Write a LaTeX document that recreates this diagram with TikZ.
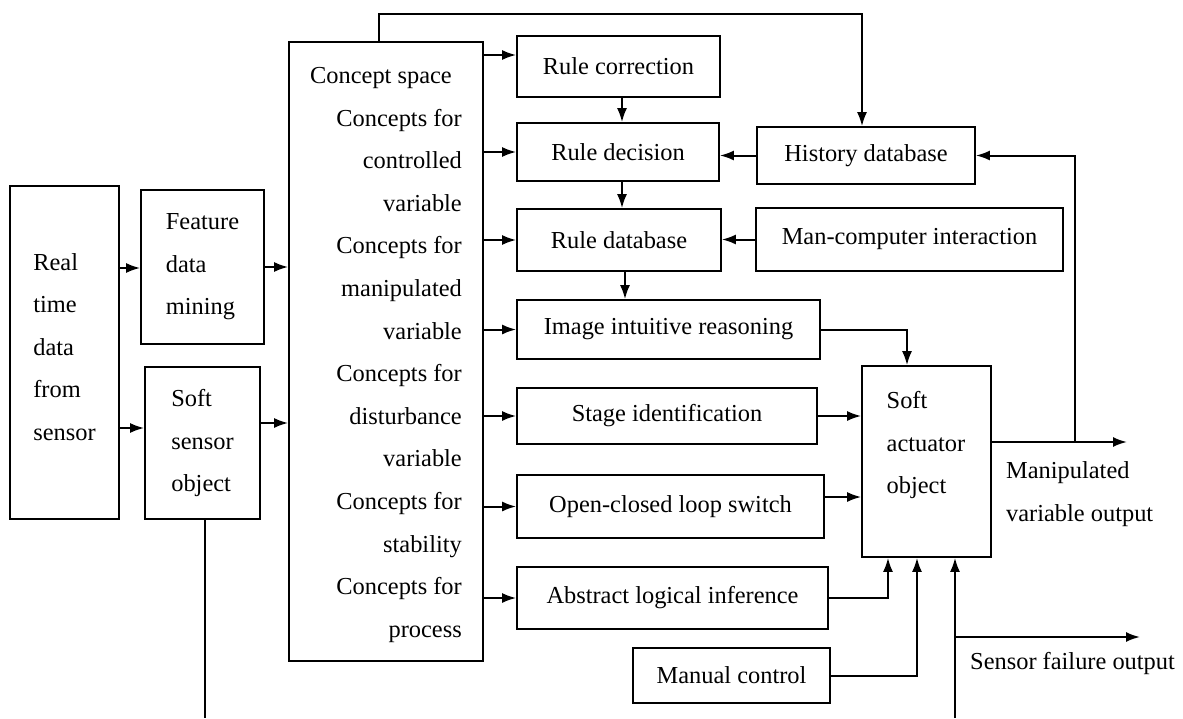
\documentclass[tikz,border=0pt]{standalone}
\usepackage{fontspec}
\setmainfont{Liberation Serif}
\usetikzlibrary{arrows.meta}

\tikzset{
    blk/.style={draw, line width=1.7pt, inner sep=0pt, align=left,
        font=\fontsize{24.4}{42.6}\selectfont},
    txt/.style={inner sep=0pt, font=\fontsize{24.4}{42.6}\selectfont},
    arr/.style={line width=2pt, -{Latex[length=14pt,width=10pt]}},
    ln/.style={line width=1.7pt}
}

\begin{document}
\begin{tikzpicture}[x=1pt, y=-1pt]
    \useasboundingbox (0,0) rectangle (1183,718);
    %input side
    \begin{scope}
    \node (rt) [blk, minimum width=109pt, minimum height=333pt] at (64.5,352.5) {};
    \node (rttext) [txt, align=left] at (64.5,347) {Real\\time\\data\\from\\sensor};
    \node (fdm) [blk, minimum width=123pt, minimum height=154pt] at (202.5,267) {Feature\\data\\mining};
    \node (sso) [blk, minimum width=115pt, minimum height=152pt] at (202.5,443) {Soft\\sensor\\object};
    \node (cs) [blk, minimum width=194pt, minimum height=619pt] at (386,351.5) {};
    \node (cstext) [txt, align=right, anchor=east] at (462,355) {Concept space\hspace*{10pt}\\Concepts for\\controlled\\variable\\Concepts for\\manipulated\\variable\\Concepts for\\disturbance\\variable\\Concepts for\\stability\\Concepts for\\process};
    \end{scope}
    %rule part
    \begin{scope}
    \node (rc) [blk, minimum width=203pt, minimum height=61pt] at (618.5,66.5) {Rule correction};
    \node (rd) [blk, minimum width=202pt, minimum height=58pt] at (618,152) {Rule decision};
    \node (rdb) [blk, minimum width=204pt, minimum height=62pt] at (619,240) {Rule database};
    \node (iir) [blk, minimum width=303pt, minimum height=59pt] at (668.5,329.5) {Image intuitive reasoning};
    \node (hdb) [blk, minimum width=218pt, minimum height=57pt] at (866,155.5) {History database};
    \node (mci) [blk, minimum width=307pt, minimum height=63pt] at (909.5,239.5) {Man-computer interaction};
    \node (sid) [blk, minimum width=300pt, minimum height=56pt] at (667,416) {Stage identification};
    \node (ocl) [blk, minimum width=307pt, minimum height=63pt] at (670.5,506.5) {Open-closed loop switch};
    \node (ali) [blk, minimum width=311pt, minimum height=62pt] at (672.5,598) {Abstract logical inference};
    \node (mc) [blk, minimum width=197pt, minimum height=55pt] at (731.5,675.5) {Manual control};
    \end{scope}
    %output side
    \node (sao) [blk, minimum width=129pt, minimum height=191pt] at (926.5,461.5) {};
    \node (saotext) [txt, align=left] at (926,445) {Soft\\actuator\\object};
    \node (mvo) [txt, align=left, anchor=west] at (1006,494) {Manipulated\\variable output};
    \node (sfo) [txt, anchor=west] at (970,663) {Sensor failure output};
    \coordinate (mvend) at (1127,442);
    \coordinate (sfin) at (955,718);
    \coordinate (sfend) at (1140,637);
    \coordinate (ssend) at (205,718);

    %arrows
    \draw [arr] (rt.east |- 0,268) -- (fdm.west |- 0,268);
    \draw [arr] (rt.east |- 0,428) -- (sso.west |- 0,428);
    \draw [arr] (fdm.east) -- (cs.west |- fdm.east);
    \draw [arr] (sso.east |- 0,423) -- (cs.west |- 0,423);
    \draw [ln] ([xshift=2.5pt]sso.south) -- (ssend);
    \draw [arr] (cs.east |- 0,55) -- (rc.west |- 0,55);
    \foreach \b in {rd,rdb,iir,sid,ocl,ali}
        \draw [arr] (cs.east |- \b.west) -- (\b.west);
    \draw [arr] ([xshift=3.5pt]rc.south) -- ([xshift=4pt]rd.north);
    \draw [arr] ([xshift=4pt]rd.south) -- ([xshift=3pt]rdb.north);
    \draw [arr] ([xshift=6pt]rdb.south) -- (iir.north -| 625,0);
    \draw [arr] (hdb.west) -- (rd.east |- hdb.west);
    \draw [arr] (mci.west) -- (rdb.east |- mci.west);
    \draw [arr] ([xshift=-7pt]cs.north) -- ++(0,-27) -| ([xshift=-4pt]hdb.north);
    \draw [arr] (iir.east) -| ([xshift=-19.5pt]sao.north);
    \draw [arr] (sid.east) -- (sao.west |- sid.east);
    \draw [arr] (ocl.east |- 0,497) -- (sao.west |- 0,497);
    \draw [arr] (ali.east) -| ([xshift=-38.5pt]sao.south);
    \draw [arr] (mc.east) -| ([xshift=-9.5pt]sao.south);
    \draw [arr] (sfin) -- ([xshift=28.5pt]sao.south);
    \draw [arr] (sfin |- sfend) -- (sfend);
    \draw [arr] ([yshift=19.5pt]sao.east) -- (mvend);
    \draw [arr] (1075,442) |- (hdb.east);
\end{tikzpicture}
\end{document}
